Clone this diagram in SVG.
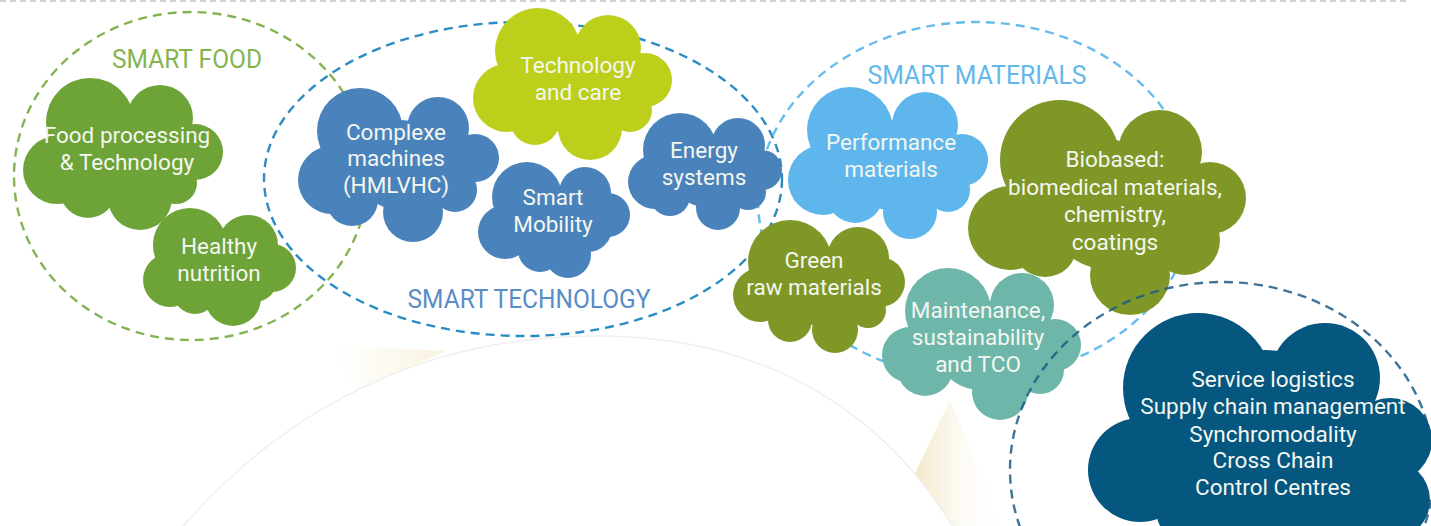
<svg xmlns="http://www.w3.org/2000/svg" width="1431" height="526" viewBox="0 0 1431 526">
  <defs>
    <style>
      .lbl { font-family: Roboto, "Liberation Sans", sans-serif; font-size: 22.5px; fill: #f4f6f0; text-anchor: middle; }
      .sec { font-family: Roboto, "Liberation Sans", sans-serif; font-size: 26px; text-anchor: middle; }
      .ring { fill: none; stroke-width: 2.4; stroke-dasharray: 9 6; }
      .food { fill: #6ea338; }
      .tech { fill: #4a83bb; }
      .care { fill: #bccf1b; }
      .perf { fill: #5eb6ec; }
      .olive { fill: #7f9727; }
      .teal { fill: #6eb6aa; }
      .logi { fill: #05577f; }
    </style>
    <linearGradient id="beamA" x1="330" y1="0" x2="445" y2="0" gradientUnits="userSpaceOnUse">
      <stop offset="0" stop-color="#fbf6e8" stop-opacity="0"/>
      <stop offset="1" stop-color="#f9f2de"/>
    </linearGradient>
    <linearGradient id="beamB" x1="905" y1="0" x2="1003" y2="0" gradientUnits="userSpaceOnUse">
      <stop offset="0" stop-color="#efe2bc"/>
      <stop offset="1" stop-color="#ffffff" stop-opacity="0"/>
    </linearGradient>
  </defs>

  <rect width="1431" height="526" fill="#ffffff"/>

  <!-- top rule -->
  <line x1="0" y1="1" x2="1410" y2="1" stroke="#d2d2d2" stroke-width="2" stroke-dasharray="6 4"/>

  <!-- light beams behind the large disc -->
  <polygon points="330,345 445,351 356,393" fill="url(#beamA)"/>
  <polygon points="950,400 890,526 1003,526" fill="url(#beamB)"/>

  <!-- large faint disc -->
  <path d="M180,530 C300,390 450,335 600,336 C740,337 870,390 955,530 Z" fill="#ffffff" stroke="#efefef" stroke-width="1.5"/>

  <!-- cluster outlines -->
  <g id="clusters">
    <ellipse class="ring" cx="191" cy="176" rx="177" ry="164" stroke="#84b352"/>
    <ellipse class="ring" cx="523" cy="179" rx="259" ry="157" stroke="#2a8cc3"/>
    <ellipse class="ring" cx="976" cy="200" rx="218" ry="178" stroke="#66bcec"/>
  </g>

  <!-- section titles -->
  <text class="sec" x="187" y="68" fill="#84b450" textLength="150" lengthAdjust="spacingAndGlyphs">SMART FOOD</text>
  <text class="sec" x="529" y="308" fill="#5a8dc6" textLength="243" lengthAdjust="spacingAndGlyphs">SMART TECHNOLOGY</text>
  <text class="sec" x="977" y="84" fill="#62b8ea" textLength="219" lengthAdjust="spacingAndGlyphs">SMART MATERIALS</text>

  <g id="food-processing">
    <g class="food">
      <circle cx="90" cy="122" r="44"/>
      <circle cx="160" cy="118" r="33"/>
      <circle cx="195" cy="152" r="28"/>
      <circle cx="57" cy="170" r="34"/>
      <circle cx="88" cy="190" r="28"/>
      <circle cx="140" cy="198" r="32"/>
      <circle cx="176" cy="183" r="21"/>
      <circle cx="128" cy="155" r="45"/>
      <circle cx="170" cy="160" r="26"/>
    </g>
    <text class="lbl"><tspan x="127" y="143">Food processing</tspan><tspan x="127" y="170">&amp; Technology</tspan></text>
  </g>

  <g id="healthy-nutrition">
    <g class="food">
      <circle cx="190" cy="245" r="37"/>
      <circle cx="248" cy="245" r="30"/>
      <circle cx="272" cy="268" r="24"/>
      <circle cx="170" cy="280" r="27"/>
      <circle cx="233" cy="298" r="28"/>
      <circle cx="195" cy="292" r="22"/>
      <circle cx="225" cy="270" r="35"/>
      <circle cx="255" cy="280" r="22"/>
    </g>
    <text class="lbl"><tspan x="219" y="254">Healthy</tspan><tspan x="219" y="281">nutrition</tspan></text>
  </g>

  <g id="complexe-machines">
    <g class="tech">
      <circle cx="360" cy="131" r="43"/>
      <circle cx="438" cy="128" r="31"/>
      <circle cx="475" cy="158" r="24"/>
      <circle cx="332" cy="180" r="34"/>
      <circle cx="413" cy="212" r="30"/>
      <circle cx="352" cy="200" r="26"/>
      <circle cx="455" cy="190" r="22"/>
      <circle cx="400" cy="165" r="45"/>
      <circle cx="445" cy="165" r="30"/>
    </g>
    <text class="lbl"><tspan x="396" y="140">Complexe</tspan><tspan x="396" y="166">machines</tspan><tspan x="396" y="193">(HMLVHC)</tspan></text>
  </g>

  <g id="technology-care">
    <g class="care">
      <circle cx="538" cy="51" r="43"/>
      <circle cx="608" cy="48" r="33"/>
      <circle cx="645" cy="80" r="27"/>
      <circle cx="507" cy="98" r="34"/>
      <circle cx="535" cy="120" r="25"/>
      <circle cx="590" cy="128" r="32"/>
      <circle cx="630" cy="110" r="22"/>
      <circle cx="575" cy="90" r="45"/>
      <circle cx="615" cy="92" r="30"/>
    </g>
    <text class="lbl"><tspan x="578" y="73">Technology</tspan><tspan x="578" y="100">and care</tspan></text>
  </g>

  <g id="smart-mobility">
    <g class="tech">
      <circle cx="527" cy="197" r="35"/>
      <circle cx="585" cy="193" r="26"/>
      <circle cx="608" cy="215" r="22"/>
      <circle cx="505" cy="232" r="27"/>
      <circle cx="568" cy="255" r="23"/>
      <circle cx="540" cy="250" r="22"/>
      <circle cx="555" cy="222" r="35"/>
      <circle cx="588" cy="228" r="24"/>
    </g>
    <text class="lbl"><tspan x="553" y="205">Smart</tspan><tspan x="553" y="232">Mobility</tspan></text>
  </g>

  <g id="energy-systems">
    <g class="tech">
      <circle cx="680" cy="150" r="37"/>
      <circle cx="738" cy="145" r="27"/>
      <circle cx="762" cy="170" r="20"/>
      <circle cx="655" cy="182" r="27"/>
      <circle cx="718" cy="208" r="22"/>
      <circle cx="670" cy="196" r="20"/>
      <circle cx="748" cy="192" r="18"/>
      <circle cx="705" cy="175" r="32"/>
      <circle cx="735" cy="175" r="25"/>
    </g>
    <text class="lbl"><tspan x="704" y="158">Energy</tspan><tspan x="704" y="185">systems</tspan></text>
  </g>

  <g id="performance-materials">
    <g class="perf">
      <circle cx="850" cy="130" r="43"/>
      <circle cx="925" cy="125" r="33"/>
      <circle cx="962" cy="160" r="26"/>
      <circle cx="823" cy="180" r="35"/>
      <circle cx="855" cy="195" r="28"/>
      <circle cx="910" cy="212" r="27"/>
      <circle cx="948" cy="190" r="22"/>
      <circle cx="890" cy="165" r="45"/>
      <circle cx="932" cy="165" r="30"/>
    </g>
    <text class="lbl"><tspan x="891" y="150">Performance</tspan><tspan x="891" y="177">materials</tspan></text>
  </g>

  <g id="biobased">
    <g class="olive">
      <circle cx="1060" cy="160" r="60"/>
      <circle cx="1160" cy="152" r="42"/>
      <circle cx="1210" cy="198" r="36"/>
      <circle cx="1010" cy="228" r="42"/>
      <circle cx="1045" cy="245" r="32"/>
      <circle cx="1130" cy="275" r="40"/>
      <circle cx="1185" cy="240" r="35"/>
      <circle cx="1110" cy="205" r="65"/>
      <circle cx="1165" cy="205" r="45"/>
    </g>
    <text class="lbl"><tspan x="1115" y="167">Biobased:</tspan><tspan x="1115" y="195">biomedical materials,</tspan><tspan x="1115" y="222">chemistry,</tspan><tspan x="1115" y="250">coatings</tspan></text>
  </g>

  <g id="green-raw-materials">
    <g class="olive">
      <circle cx="790" cy="262" r="42"/>
      <circle cx="858" cy="258" r="31"/>
      <circle cx="880" cy="282" r="25"/>
      <circle cx="760" cy="295" r="27"/>
      <circle cx="835" cy="330" r="23"/>
      <circle cx="790" cy="320" r="22"/>
      <circle cx="868" cy="310" r="18"/>
      <circle cx="815" cy="290" r="35"/>
      <circle cx="848" cy="298" r="28"/>
    </g>
    <text class="lbl"><tspan x="814" y="268">Green</tspan><tspan x="814" y="295">raw materials</tspan></text>
  </g>

  <g id="maintenance">
    <g class="teal">
      <circle cx="948" cy="311" r="43"/>
      <circle cx="1022" cy="305" r="32"/>
      <circle cx="1055" cy="345" r="26"/>
      <circle cx="910" cy="355" r="28"/>
      <circle cx="925" cy="368" r="28"/>
      <circle cx="1000" cy="392" r="28"/>
      <circle cx="1040" cy="370" r="24"/>
      <circle cx="980" cy="345" r="45"/>
      <circle cx="1025" cy="340" r="30"/>
    </g>
    <text class="lbl"><tspan x="978" y="318">Maintenance,</tspan><tspan x="978" y="345">sustainability</tspan><tspan x="978" y="372">and TCO</tspan></text>
  </g>

  <!-- logistics cluster outline runs over the neighbouring cloud -->
  <ellipse class="ring" cx="1222" cy="470" rx="212" ry="188" stroke="#1f5b84" stroke-opacity="0.85"/>

  <g id="logistics">
    <g class="logi">
      <circle cx="1198" cy="388" r="75"/>
      <circle cx="1325" cy="378" r="55"/>
      <circle cx="1390" cy="440" r="42"/>
      <circle cx="1140" cy="470" r="52"/>
      <circle cx="1200" cy="505" r="45"/>
      <circle cx="1310" cy="505" r="50"/>
      <circle cx="1390" cy="500" r="40"/>
      <circle cx="1265" cy="440" r="90"/>
      <circle cx="1345" cy="465" r="60"/>
      <circle cx="1375" cy="515" r="38"/>
    </g>
    <text class="lbl"><tspan x="1273" y="387">Service logistics</tspan><tspan x="1273" y="414">Supply chain management</tspan><tspan x="1273" y="442">Synchromodality</tspan><tspan x="1273" y="468">Cross Chain</tspan><tspan x="1273" y="495">Control Centres</tspan></text>
  </g>
</svg>
